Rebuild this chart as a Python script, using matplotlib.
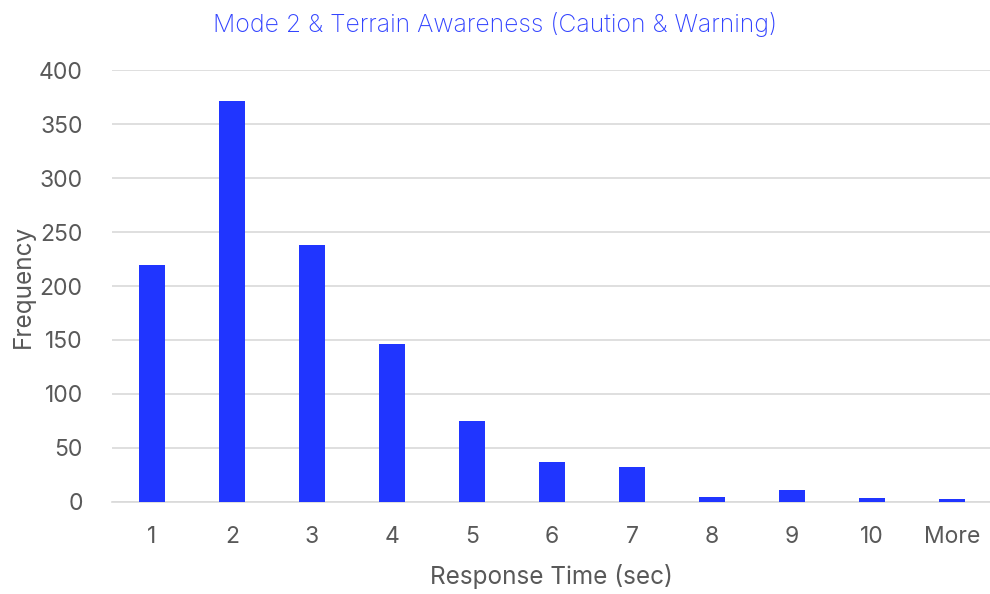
import matplotlib.pyplot as plt
import numpy as np

categories = ['1', '2', '3', '4', '5', '6', '7', '8', '9', '10', 'More']
frequency = [219, 371, 238, 146, 75, 37, 32, 5, 11, 4, 3]
yticks = [0, 50, 100, 150, 200, 250, 300, 350, 400]

plt.rcParams['font.family'] = ['Inter', 'DejaVu Sans']

fig = plt.figure(figsize=(9.9, 5.94), dpi=100)
ax = fig.add_axes([0.113, 0.155, 0.889, 0.727])

x = np.arange(len(categories))
ax.bar(x, frequency, width=0.33, color='#2035ff', zorder=3)

ax.set_xlim(-0.5, len(categories) - 0.5)
ax.set_ylim(0, 400)
ax.set_yticks(yticks)
ax.set_xticks(x)
ax.set_xticklabels(categories)

ax.grid(axis='y', color='#d9d9d9', linewidth=1.2, zorder=0)
for s in ['top', 'right', 'left']:
    ax.spines[s].set_visible(False)
ax.spines['bottom'].set_color('#d9d9d9')
ax.spines['bottom'].set_linewidth(1.2)

ax.tick_params(axis='both', length=0, labelsize=16.5, labelcolor='#595959')
ax.tick_params(axis='y', pad=21)
ax.tick_params(axis='x', pad=17)

ax.set_xlabel('Response Time (sec)', fontsize=17.5, color='#595959', labelpad=12)
ax.set_ylabel('Frequency', fontsize=17.5, color='#595959', labelpad=3)
fig.suptitle('Mode 2 & Terrain Awareness (Caution & Warning)', fontsize=17.8,
             color='#3344ff', y=0.98, x=0.5, fontweight='light')

fig.savefig('out.png', dpi=100)
